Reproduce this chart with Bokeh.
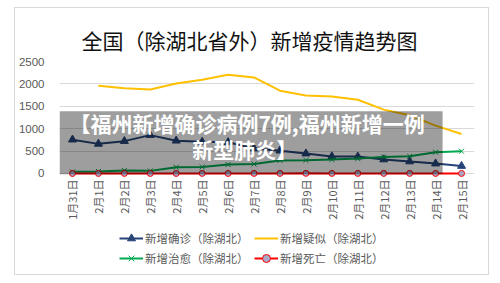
from bokeh.plotting import figure
from bokeh.layouts import column
from bokeh.models import (Range1d, FixedTicker, BoxAnnotation, Label, Legend, LegendItem)
from bokeh.embed import file_html
from bokeh.resources import INLINE
import math

# Daily new cases in China outside Hubei, 31 Jan - 15 Feb
dates = ["1月31日", "2月1日", "2月2日", "2月3日", "2月4日", "2月5日", "2月6日", "2月7日",
         "2月8日", "2月9日", "2月10日", "2月11日", "2月12日", "2月13日", "2月14日", "2月15日"]
confirmed = [755, 661, 722, 856, 731, 707, 696, 558, 509, 444, 381, 377, 312, 267, 221, 166]
suspected = [math.nan, 1960, 1905, 1877, 2010, 2092, 2204, 2144, 1848, 1743, 1721, 1647, 1425, 1298, 1069, 882]
cured = [36, 45, 67, 58, 140, 147, 200, 210, 289, 296, 311, 333, 370, 385, 474, 496]
deaths = [0, 1, 2, 1, 1, 2, 1, 2, 2, 3, 2, 2, 2, 2, 1, 1]
y_ticks = [0, 500, 1000, 1500, 2000, 2500]

series_names = ["新增确诊（除湖北）", "新增疑似（除湖北）", "新增治愈（除湖北）", "新增死亡（除湖北）"]
title_text = "全国（除湖北省外）新增疫情趋势图"
banner_lines = ["【福州新增确诊病例7例,福州新增一例", "新型肺炎】"]

CJK = "Noto Sans CJK SC"
GREY = "#595959"
BLUE, YELLOW, GREEN, RED = "#264478", "#FFC000", "#00A84F", "#FF0000"
DOT_FILL = "#A8A8C8"

x = list(range(len(dates)))

# ---- main chart ----
p = figure(width=473, height=221, output_backend="svg", toolbar_location=None,
           x_range=Range1d(-0.5, 15.5), y_range=Range1d(-90, 2500),
           min_border_left=43, min_border_right=14, min_border_top=53, min_border_bottom=52,
           title=title_text)
p.outline_line_color = None

p.title.text_font = CJK
p.title.text_font_size = "21px"
p.title.text_font_style = "normal"
p.title.text_color = "#111111"
p.title.align = "left"
p.title.offset = 22
p.title.standoff = 14

p.xaxis.ticker = FixedTicker(ticks=x)
p.xaxis.major_label_overrides = {i: d for i, d in enumerate(dates)}
p.xaxis.major_label_orientation = math.pi / 2
p.xaxis.axis_line_color = None
p.xaxis.major_tick_line_color = None
p.xaxis.minor_tick_line_color = None
p.xaxis.major_tick_out = 0
p.xaxis.major_label_standoff = 2
p.xaxis.major_label_text_font = CJK
p.xaxis.major_label_text_font_size = "11px"
p.xaxis.major_label_text_color = GREY

p.yaxis.ticker = FixedTicker(ticks=y_ticks)
p.yaxis.axis_line_color = None
p.yaxis.major_tick_line_color = None
p.yaxis.minor_tick_line_color = None
p.yaxis.major_label_standoff = 9
p.yaxis.major_label_text_font = "Liberation Sans"
p.yaxis.major_label_text_font_size = "11.5px"
p.yaxis.major_label_text_color = GREY

p.xgrid.grid_line_color = None
p.ygrid.grid_line_color = "#d9d9d9"
p.ygrid.grid_line_width = 1

p.line(x, confirmed, line_color=BLUE, line_width=2)
p.scatter(x, confirmed, marker="triangle", size=8, fill_color=BLUE, line_color=BLUE)
p.line(x, suspected, line_color=YELLOW, line_width=2)
p.line(x, cured, line_color=GREEN, line_width=2)
p.scatter(x, cured, marker="x", size=7, line_color=GREEN, line_width=1)
p.line(x, deaths, line_color=RED, line_width=2)
p.scatter(x, deaths, marker="circle", size=6, fill_color=DOT_FILL, line_color=RED, line_width=1)

# headline banner laid over the chart
p.add_layout(BoxAnnotation(left=-0.5, right=14.27, bottom=-20, top=1387,
                           fill_color="black", fill_alpha=0.38, line_color=None))
p.add_layout(Label(x=6.73, y=1133, text=banner_lines[0], text_align="center",
                   text_baseline="middle", text_font=CJK, text_font_style="bold",
                   text_font_size="21px", text_color="white"))
p.add_layout(Label(x=6.64, y=541, text=banner_lines[1], text_align="center",
                   text_baseline="middle", text_font=CJK, text_font_style="bold",
                   text_font_size="21px", text_color="white"))

# ---- legend strip under the chart ----
lg = figure(width=473, height=45, output_backend="svg", toolbar_location=None,
            x_range=Range1d(0, 1), y_range=Range1d(0, 1),
            x_axis_location=None, y_axis_location=None,
            min_border_left=0, min_border_right=0, min_border_top=0, min_border_bottom=0)
lg.grid.visible = False
lg.outline_line_color = None

# legend swatches only: these renderers hold no visible points
nan = [math.nan]
k1 = lg.line(nan, nan, line_color=BLUE, line_width=2)
s1 = lg.scatter(nan, nan, marker="triangle", size=8, fill_color=BLUE, line_color=BLUE)
k2 = lg.line(nan, nan, line_color=YELLOW, line_width=2)
k3 = lg.line(nan, nan, line_color=GREEN, line_width=2)
s3 = lg.scatter(nan, nan, marker="x", size=7, line_color=GREEN, line_width=1)
k4 = lg.line(nan, nan, line_color=RED, line_width=2)
s4 = lg.scatter(nan, nan, marker="circle", size=6, fill_color=DOT_FILL, line_color=RED, line_width=1)

legend = Legend(items=[
    LegendItem(label=series_names[0], renderers=[k1, s1]),
    LegendItem(label=series_names[1], renderers=[k2]),
    LegendItem(label=series_names[2], renderers=[k3, s3]),
    LegendItem(label=series_names[3], renderers=[k4, s4]),
], orientation="horizontal", ncols=2, location=(60, 6))
legend.padding = 0
legend.margin = 0
legend.spacing = 0
legend.border_line_color = None
legend.background_fill_alpha = 0
legend.glyph_width = 24
legend.glyph_height = 20
legend.label_height = 20
legend.label_width = 109
legend.label_standoff = 2
legend.label_text_font = CJK
legend.label_text_font_size = "11.5px"
legend.label_text_color = GREY
lg.add_layout(legend, "center")

page = column(p, lg, spacing=0)
page.margin = (7, 0, 0, 14)
page.styles = {"border": "1px solid #d9d9d9"}

open("out.html", "w").write(file_html(page, INLINE))
